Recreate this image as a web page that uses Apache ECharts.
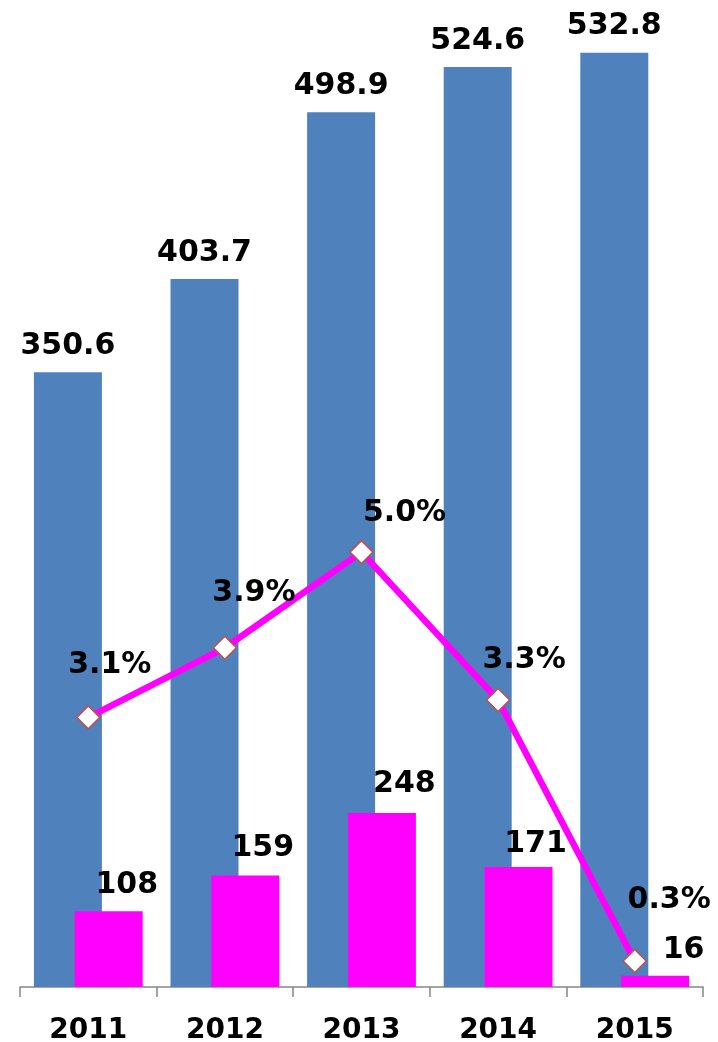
<!DOCTYPE html>
<html>
<head>
<meta charset="utf-8">
<script src="https://cdn.jsdelivr.net/npm/echarts@6/dist/echarts.min.js"></script>
<style>
html,body{margin:0;padding:0;background:#fff;}
#c{width:718px;height:1042px;}
</style>
</head>
<body>
<div id="c"></div>
<script>
// ---- data ----
var categories = ['2011', '2012', '2013', '2014', '2015'];
var blueValues = [350.6, 403.7, 498.9, 524.6, 532.8];
var magentaValues = [108, 159, 248, 171, 16];
var rateValues = [3.1, 3.9, 5.0, 3.3, 0.3];

// ---- label placement (styles, not data) ----
var magentaLabelOffsets = [[18, -26.5], [17.5, -27.5], [22.5, -28.5], [17, -23], [28.5, -26]];
var rateLabelOffsets = [[21.5, -52], [29, -55], [43, -39], [26, -39.5], [34.5, -61]];

var FONT = '"DejaVu Sans", Verdana, sans-serif';
var labelBase = {
  show: true,
  color: '#000',
  fontFamily: FONT,
  fontWeight: 'bold',
  fontSize: 30
};

var chart = echarts.init(document.getElementById('c'), null, {renderer: 'canvas'});

var option = {
  animation: false,
  backgroundColor: '#fff',
  grid: {left: 20, right: 15, top: 5, bottom: 55, containLabel: false, outerBoundsMode: 'none'},
  xAxis: {
    type: 'category',
    data: categories,
    boundaryGap: true,
    axisLine: {show: true, lineStyle: {color: '#868686', width: 1.5}},
    axisTick: {show: true, length: 10, alignWithLabel: false, lineStyle: {color: '#868686', width: 1.5}},
    axisLabel: {color: '#000', fontFamily: FONT, fontWeight: 'bold', fontSize: 28, margin: 30}
  },
  yAxis: [
    {type: 'value', min: 0, max: 560, show: false, splitLine: {show: false}},
    {type: 'value', min: 0, max: 1400, show: false, splitLine: {show: false}},
    {type: 'value', min: 0, max: 11.29, show: false, splitLine: {show: false}}
  ],
  series: [
    {
      type: 'bar',
      yAxisIndex: 0,
      data: blueValues,
      barWidth: 68,
      barGap: '-40%',
      itemStyle: {color: '#4F81BD'},
      label: Object.assign({}, labelBase, {
        position: 'top', distance: 0, align: 'center', verticalAlign: 'middle',
        offset: [0, -26]
      }),
      z: 2
    },
    {
      type: 'bar',
      yAxisIndex: 1,
      data: magentaValues.map(function (v, i) {
        return {value: v, label: {offset: magentaLabelOffsets[i]}};
      }),
      barWidth: 68,
      barGap: '-40%',
      itemStyle: {color: '#FF00FF'},
      label: Object.assign({}, labelBase, {
        position: 'top', distance: 0, align: 'center', verticalAlign: 'middle'
      }),
      z: 3
    },
    {
      type: 'line',
      yAxisIndex: 2,
      data: rateValues.map(function (v, i) {
        return {value: v, label: {offset: rateLabelOffsets[i]}};
      }),
      lineStyle: {color: '#FF00FF', width: 6.5},
      itemStyle: {color: '#FFFFFF', borderColor: '#C0504D', borderWidth: 1.5},
      symbol: 'diamond',
      symbolSize: 23,
      showAllSymbol: true,
      label: Object.assign({}, labelBase, {
        position: 'inside', align: 'center', verticalAlign: 'middle',
        formatter: function (p) { return p.value.toFixed(1) + '%'; }
      }),
      z: 5
    }
  ]
};
chart.setOption(option);
</script>
</body>
</html>
